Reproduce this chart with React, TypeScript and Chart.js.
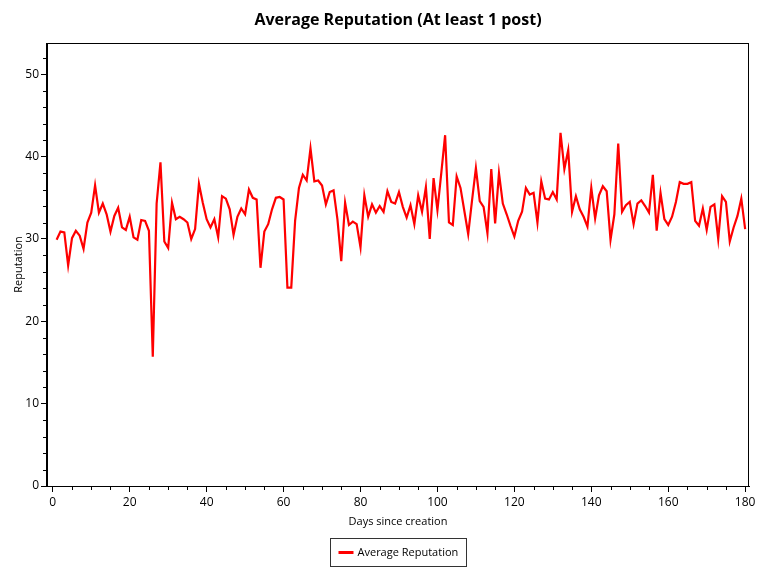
import React, { useEffect, useRef } from "react";
import { Chart, registerables } from "chart.js";

Chart.register(...registerables);

const chartTitle = "Average Reputation (At least 1 post)";
const seriesLabel = "Average Reputation";
const xTitle = "Days since creation";
const yTitle = "Reputation";

const firstDay = 1;
const reputation = [
  29.9, 30.9, 30.8, 26.8, 30.1, 31.0, 30.4, 28.8, 32.0, 33.2,
  36.5, 33.2, 34.3, 33.0, 30.9, 32.8, 33.8, 31.4, 31.1, 32.7,
  30.2, 29.9, 32.3, 32.2, 31.0, 15.7, 34.3, 39.3, 29.7, 28.9,
  34.4, 32.4, 32.7, 32.4, 32.0, 30.0, 31.2, 36.7, 34.4, 32.4,
  31.4, 32.4, 30.2, 35.2, 34.9, 33.6, 30.5, 32.7, 33.7, 33.0,
  36.0, 35.0, 34.8, 26.5, 30.9, 31.8, 33.6, 35.0, 35.1, 34.8,
  24.1, 24.1, 32.2, 36.2, 37.8, 37.1, 41.0, 37.0, 37.1, 36.5,
  34.2, 35.7, 35.9, 32.4, 27.3, 34.4, 31.7, 32.1, 31.8, 29.0,
  35.3, 32.7, 34.2, 33.2, 34.0, 33.3, 35.8, 34.5, 34.3, 35.7,
  33.9, 32.6, 34.1, 31.8, 35.3, 33.3, 36.3, 30.0, 37.4, 33.5,
  38.0, 42.6, 32.0, 31.7, 37.6, 36.2, 33.4, 30.6, 34.7, 38.6,
  34.6, 33.9, 30.7, 38.5, 31.9, 38.0, 34.3, 33.0, 31.6, 30.3,
  32.2, 33.3, 36.2, 35.4, 35.6, 32.0, 37.0, 34.9, 34.8, 35.7,
  34.8, 42.9, 38.5, 40.8, 33.3, 35.2, 33.6, 32.7, 31.5, 36.2,
  32.5, 35.3, 36.4, 35.8, 29.9, 33.0, 41.6, 33.3, 34.1, 34.5,
  31.8, 34.3, 34.7, 34.0, 33.2, 37.8, 31.0, 35.6, 32.4, 31.7,
  32.7, 34.5, 36.9, 36.7, 36.7, 36.9, 32.2, 31.6, 33.7, 31.1,
  33.9, 34.2, 30.0, 35.2, 34.5, 29.7, 31.4, 32.8, 34.9, 31.2,
];

const xMin = -1.5;
const xMax = 181;
const xStep = 20;
const xMinorStep = 5;
const yMin = 0;
const yMax = 53.8;
const yStep = 10;
const yMinorStep = 2;

const FONT = "'Segoe UI', 'Open Sans', 'Noto Sans', sans-serif";

const decorPlugin = {
  id: "decor",
  afterDraw(chart: any) {
    const { ctx, chartArea, scales } = chart;
    const x = scales.x;
    const y = scales.y;
    ctx.save();
    ctx.strokeStyle = "#000";
    ctx.lineWidth = 1;
    ctx.strokeRect(
      Math.round(chartArea.left) - 0.5,
      Math.round(chartArea.top) + 0.5,
      Math.round(chartArea.right - chartArea.left),
      Math.round(chartArea.bottom - chartArea.top)
    );
    ctx.beginPath();
    for (let v = yMin; v <= yMax; v += yMinorStep) {
      if (v % yStep === 0) continue;
      const py = Math.round(y.getPixelForValue(v)) + 0.5;
      ctx.moveTo(chartArea.left - 4, py);
      ctx.lineTo(chartArea.left, py);
    }
    for (let v = 0; v <= xMax; v += xMinorStep) {
      if (v % xStep === 0) continue;
      const px = Math.round(x.getPixelForValue(v)) + 0.5;
      ctx.moveTo(px, chartArea.bottom);
      ctx.lineTo(px, chartArea.bottom + 4);
    }
    ctx.stroke();

    const cx = (chartArea.left + chartArea.right) / 2;
    ctx.fillStyle = "#000";
    ctx.font = `bold 16px ${FONT}`;
    ctx.textAlign = "center";
    ctx.textBaseline = "middle";
    ctx.fillText(chartTitle, cx, 20);

    ctx.font = `11px ${FONT}`;
    const tw = ctx.measureText(seriesLabel).width;
    const sample = 15;
    const gap = 4;
    const padL = 8;
    const padR = 8;
    const bw = padL + sample + gap + tw + padR;
    const bh = 28;
    const bx = Math.round(cx - bw / 2) + 0.5;
    const by = 538.5;
    ctx.strokeStyle = "#333";
    ctx.lineWidth = 1;
    ctx.strokeRect(bx, by, Math.round(bw), bh);
    const ly = by + bh / 2;
    ctx.strokeStyle = "#ff0000";
    ctx.lineWidth = 3;
    ctx.beginPath();
    ctx.moveTo(bx + padL, ly);
    ctx.lineTo(bx + padL + sample, ly);
    ctx.stroke();
    ctx.fillStyle = "#000";
    ctx.textAlign = "left";
    ctx.fillText(seriesLabel, bx + padL + sample + gap, ly);
    ctx.restore();
  },
};

export default function App() {
  const ref = useRef<HTMLCanvasElement>(null);
  useEffect(() => {
    if (!ref.current) return;
    const points = reputation.map((v, i) => ({ x: firstDay + i, y: v }));
    const chart = new Chart(ref.current, {
      type: "line",
      data: {
        datasets: [
          {
            label: seriesLabel,
            data: points,
            borderColor: "#ff0000",
            backgroundColor: "#ff0000",
            borderWidth: 2.2,
            pointRadius: 0,
            tension: 0,
          },
        ],
      },
      options: {
        animation: false,
        responsive: false,
        devicePixelRatio: 1,
        layout: { padding: { top: 43, right: 19, bottom: 48, left: 0 } },
        plugins: {
          legend: { display: false },
          title: { display: false },
          tooltip: { enabled: false },
        },
        scales: {
          x: {
            type: "linear",
            min: xMin,
            max: xMax,
            border: { display: true, color: "#000", width: 1 },
            grid: {
              display: true,
              drawOnChartArea: false,
              drawTicks: true,
              tickLength: 6,
              color: "#000",
            },
            ticks: {
              stepSize: xStep,
              includeBounds: false,
              autoSkip: false,
              maxRotation: 0,
              color: "#000",
              padding: 3,
              font: { family: FONT, size: 12 },
            },
            title: {
              display: true,
              text: xTitle,
              color: "#000",
              font: { family: FONT, size: 11 },
              padding: { top: 0, bottom: 0 },
            },
            afterFit(scale: any) {
              scale.height = 42;
            },
          },
          y: {
            type: "linear",
            min: yMin,
            max: yMax,
            border: { display: true, color: "#000", width: 1 },
            grid: {
              display: true,
              drawOnChartArea: false,
              drawTicks: true,
              tickLength: 6,
              color: "#000",
            },
            ticks: {
              stepSize: yStep,
              includeBounds: false,
              color: "#000",
              padding: 2,
              font: { family: FONT, size: 12 },
            },
            title: {
              display: true,
              text: yTitle,
              color: "#000",
              font: { family: FONT, size: 11 },
              padding: { top: 12, bottom: 0 },
            },
            afterFit(scale: any) {
              scale.width = 47;
            },
          },
        },
      },
      plugins: [decorPlugin],
    } as any);
    return () => chart.destroy();
  }, []);
  return (
    <div style={{ position: "fixed", left: 0, top: 0, width: 768, height: 576, background: "#fff" }}>
      <canvas ref={ref} width={768} height={576} style={{ width: 768, height: 576, display: "block" }} />
    </div>
  );
}
